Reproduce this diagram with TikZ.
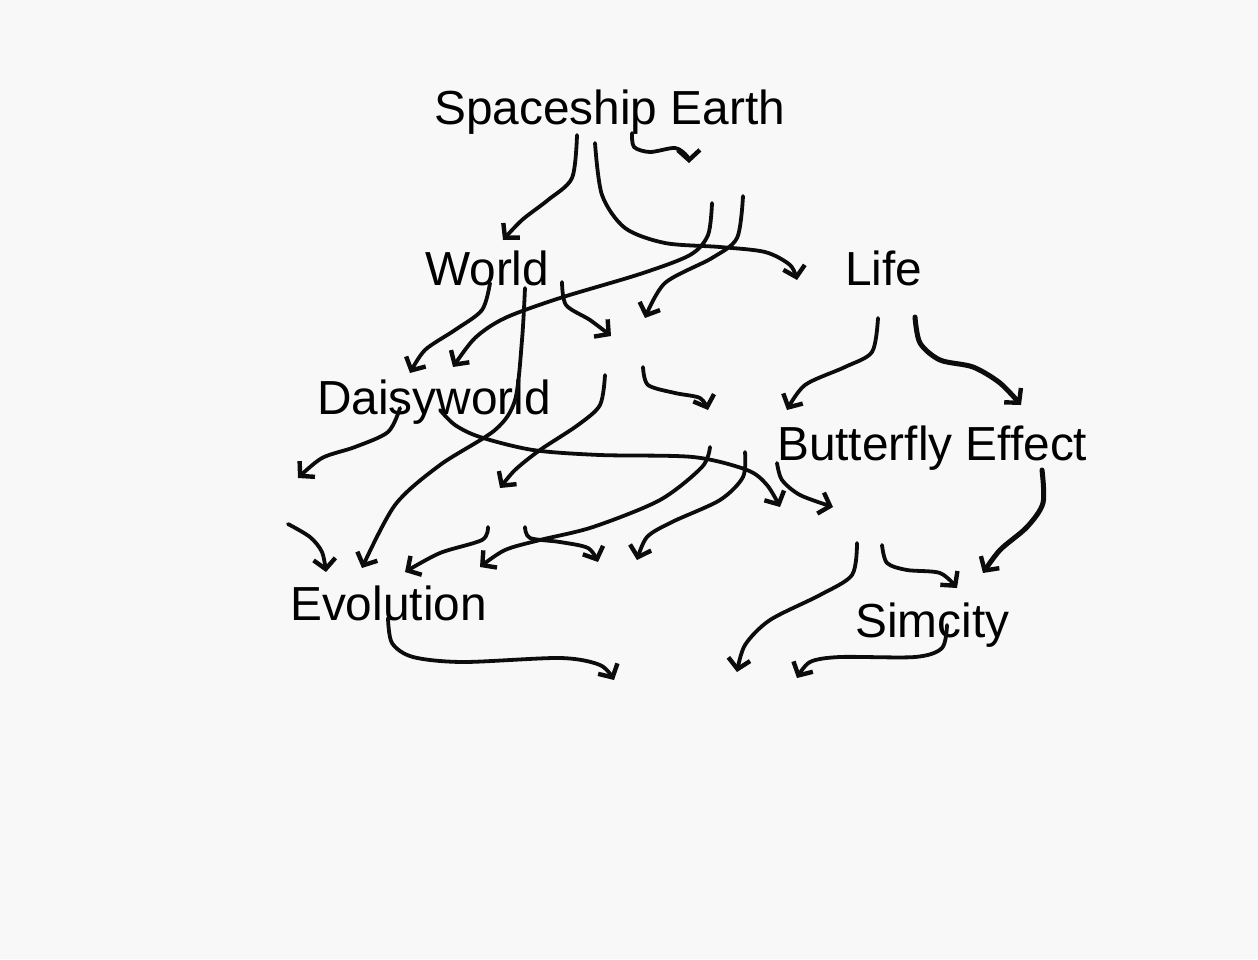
\documentclass[tikz,border=0pt]{standalone}
\usepackage{fontspec}
\setmainfont{Liberation Sans}
\usepackage{tikz}
\usetikzlibrary{arrows.meta}
\definecolor{Paper}{RGB}{248,248,248}
\definecolor{Ink}{RGB}{12,12,12}

\begin{document}
\begin{tikzpicture}[
      x=1pt,y=-1pt,
      wordLbl/.style={anchor=base west,inner sep=0pt,text=black,
                      font=\fontsize{47.8}{57}\selectfont},
      arHand/.style={-{Straight Barb[length=10pt,width=22pt,line width=4.4pt]},Ink,
                     line width=3.8pt,line cap=round,line join=round},
      arBold/.style={arHand,line width=5pt}
    ]

    % Paper
    \fill[Paper] (0,0) rectangle (1258,959);
    \useasboundingbox (0,0) rectangle (1258,959);

    % Words
    \node(se)[wordLbl] at (434,124) {Spaceship Earth};
    \node(world)[wordLbl] at (425,285) {World};
    \node(life)[wordLbl] at (845,285) {Life};
    \node(daisy)[wordLbl] at (317,414) {Daisyworld};
    \node(butterfly)[wordLbl] at (777,460) {Butterfly Effect};
    \node(evolution)[wordLbl] at (290,620) {Evolution};
    \node(simcity)[wordLbl] at (855,637) {Simcity};

    % Strokes below Spaceship Earth
    \draw[arHand] plot[smooth] coordinates {(577,135) (572,178) (548,200) (522,220) (503,240)};
    \draw[arHand] plot[smooth] coordinates {(595,143) (602,195) (625,228) (665,243) (720,247) (765,252) (790,265) (797,280)};
    \draw[arHand] plot[smooth] coordinates {(632,133) (634,147) (650,152) (675,148) (687,156) (689,163)};
    \draw[arHand] plot[smooth] coordinates {(712,203) (708,235) (690,255) (640,274) (560,298) (505,318) (475,338) (453,367)};
    \draw[arHand] plot[smooth] coordinates {(743,196) (737,238) (712,258) (665,283) (645,318)};

    % Strokes below World
    \draw[arHand] plot[smooth] coordinates {(490,283) (482,310) (455,330) (425,350) (410,373)};
    \draw[arHand] plot[smooth] coordinates {(525,288) (522,340) (515,400) (495,430) (440,465) (395,505) (362,568)};
    \draw[arHand] plot[smooth] coordinates {(562,282) (566,305) (590,320) (611,336)};
    \draw[arHand] plot[smooth] coordinates {(605,375) (600,405) (578,425) (540,450) (515,470) (500,488)};
    \draw[arHand] plot[smooth] coordinates {(643,367) (648,385) (675,393) (700,398) (708,410)};

    % Strokes below Life
    \draw[arHand] plot[smooth] coordinates {(878,318) (872,352) (845,367) (805,385) (787,410)};
    \draw[arBold] plot[smooth] coordinates {(915,317) (920,343) (940,360) (973,367) (1000,383) (1021,405)};

    % Strokes below Daisyworld
    \draw[arHand] plot[smooth] coordinates {(400,408) (388,432) (355,447) (322,458) (298,478)};
    \draw[arHand] plot[smooth] coordinates {(440,410) (455,425) (480,437) (533,450) (600,455) (693,457) (747,470) (767,485) (780,507)};
    \draw[arHand] plot[smooth] coordinates {(710,447) (702,467) (660,500) (593,527) (540,540) (505,550) (480,567)};
    \draw[arHand] plot[smooth] coordinates {(745,452) (743,477) (720,500) (672,522) (647,537) (637,560)};
    \draw[arHand] plot[smooth] coordinates {(777,463) (782,480) (800,495) (833,507)};

    % Strokes above Evolution
    \draw[arHand] plot[smooth] coordinates {(288,524) (310,537) (322,552) (326,572)};
    \draw[arHand] plot[smooth] coordinates {(488,527) (482,540) (440,553) (405,572)};
    \draw[arHand] plot[smooth] coordinates {(525,527) (530,538) (560,542) (588,548) (598,562)};
    \draw[arHand] plot[smooth] coordinates {(388,618) (392,643) (413,657) (463,662) (560,658) (600,665) (614,680)};

    % Strokes around Simcity
    \draw[arHand] plot[smooth] coordinates {(857,543) (852,575) (820,595) (770,620) (745,645) (737,672)};
    \draw[arHand] plot[smooth] coordinates {(882,545) (887,563) (907,570) (940,573) (957,588)};
    \draw[arBold] plot[smooth] coordinates {(1042,470) (1043,503) (1027,527) (1000,550) (983,573)};
    \draw[arHand] plot[smooth] coordinates {(947,625) (942,648) (915,657) (840,657) (810,662) (797,678)};
  \end{tikzpicture}
\end{document}
